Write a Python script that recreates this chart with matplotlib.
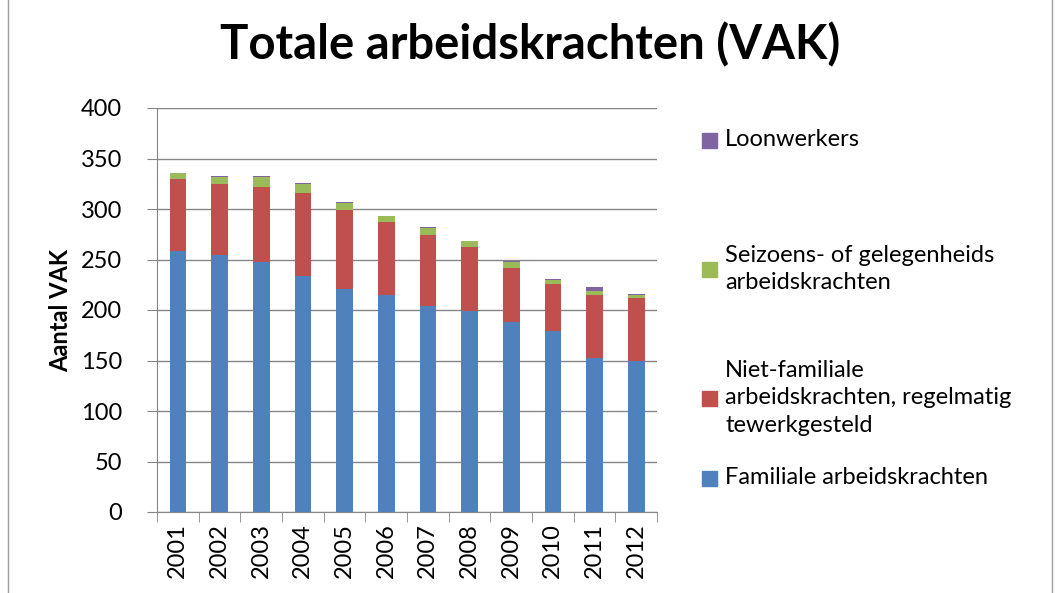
import numpy as np
import matplotlib.pyplot as plt
from matplotlib.patches import Rectangle
from matplotlib.lines import Line2D

plt.rcParams['font.family'] = ['Lato', 'DejaVu Sans']

years = ['2001', '2002', '2003', '2004', '2005', '2006',
         '2007', '2008', '2009', '2010', '2011', '2012']
familiale = [258, 254, 248, 234, 221, 215, 204, 199, 188, 179, 152, 150]
niet_familiale = [72, 71, 74, 82, 78, 72, 70, 63, 54, 47, 63, 62]
seizoens = [5.5, 7, 10, 9, 7, 6, 7, 6, 6, 4, 4, 3]
loonwerkers = [0.5, 1, 1, 1, 0.5, 0.5, 1.5, 0.5, 0.5, 0.5, 3.5, 0.5]

labels = ['Familiale arbeidskrachten',
          'Niet-familiale\narbeidskrachten, regelmatig\ntewerkgesteld',
          'Seizoens- of gelegenheids\narbeidskrachten',
          'Loonwerkers']
colors = ['#4F81BD', '#C0504D', '#9BBB59', '#8064A2']

fig = plt.figure(figsize=(10.56, 5.93), dpi=100)
ax = fig.add_axes([157 / 1056, 1 - 512 / 593, 500 / 1056, 404 / 593])

x = np.arange(len(years))
bottom = np.zeros(len(years))
for vals, col in zip([familiale, niet_familiale, seizoens, loonwerkers], colors):
    ax.bar(x, vals, 0.4, bottom=bottom, color=col, zorder=3)
    bottom += np.array(vals)

ax.set_xlim(-0.5, len(years) - 0.5)
ax.set_ylim(0, 400)
ax.set_yticks(range(0, 401, 50))
ax.grid(axis='y', color='#868686', linewidth=1, zorder=0)
ax.set_xticks(x)
ax.set_xticklabels(years, rotation=90, fontsize=17)
ax.set_xticks(np.arange(-0.5, len(years), 1), minor=True)
ax.tick_params(axis='x', which='major', length=0, pad=8)
ax.tick_params(axis='x', which='minor', length=7, color='#868686')
ax.tick_params(axis='y', labelsize=17, length=7, color='#868686', pad=18)
for s in ['top', 'right']:
    ax.spines[s].set_visible(False)
for s in ['left', 'bottom']:
    ax.spines[s].set_color('#868686')

ax.set_ylabel('Aantal VAK', fontsize=17, fontweight='bold', labelpad=6)
fig.text(530 / 1056, 1 - 45 / 593, 'Totale arbeidskrachten (VAK)', fontsize=34,
         fontweight='bold', ha='center', va='center')

# legend, top entry first
leg_y = [140, 269, 398, 478]
for ly, lab, col in zip(leg_y, labels[::-1], colors[::-1]):
    fig.patches.append(Rectangle((702 / 1056, 1 - (ly + 8) / 593), 15 / 1056, 15 / 593,
                                 transform=fig.transFigure, color=col))
    fig.text(725 / 1056, 1 - ly / 593, lab,
             fontsize=17, va='center', ha='left', linespacing=1.4)

# chart border
for bx in [8, 1052]:
    fig.lines.append(Line2D([bx / 1056, bx / 1056], [0, 1], transform=fig.transFigure,
                            color='#A0A0A0', linewidth=1))

fig.savefig('out.png', dpi=100)
